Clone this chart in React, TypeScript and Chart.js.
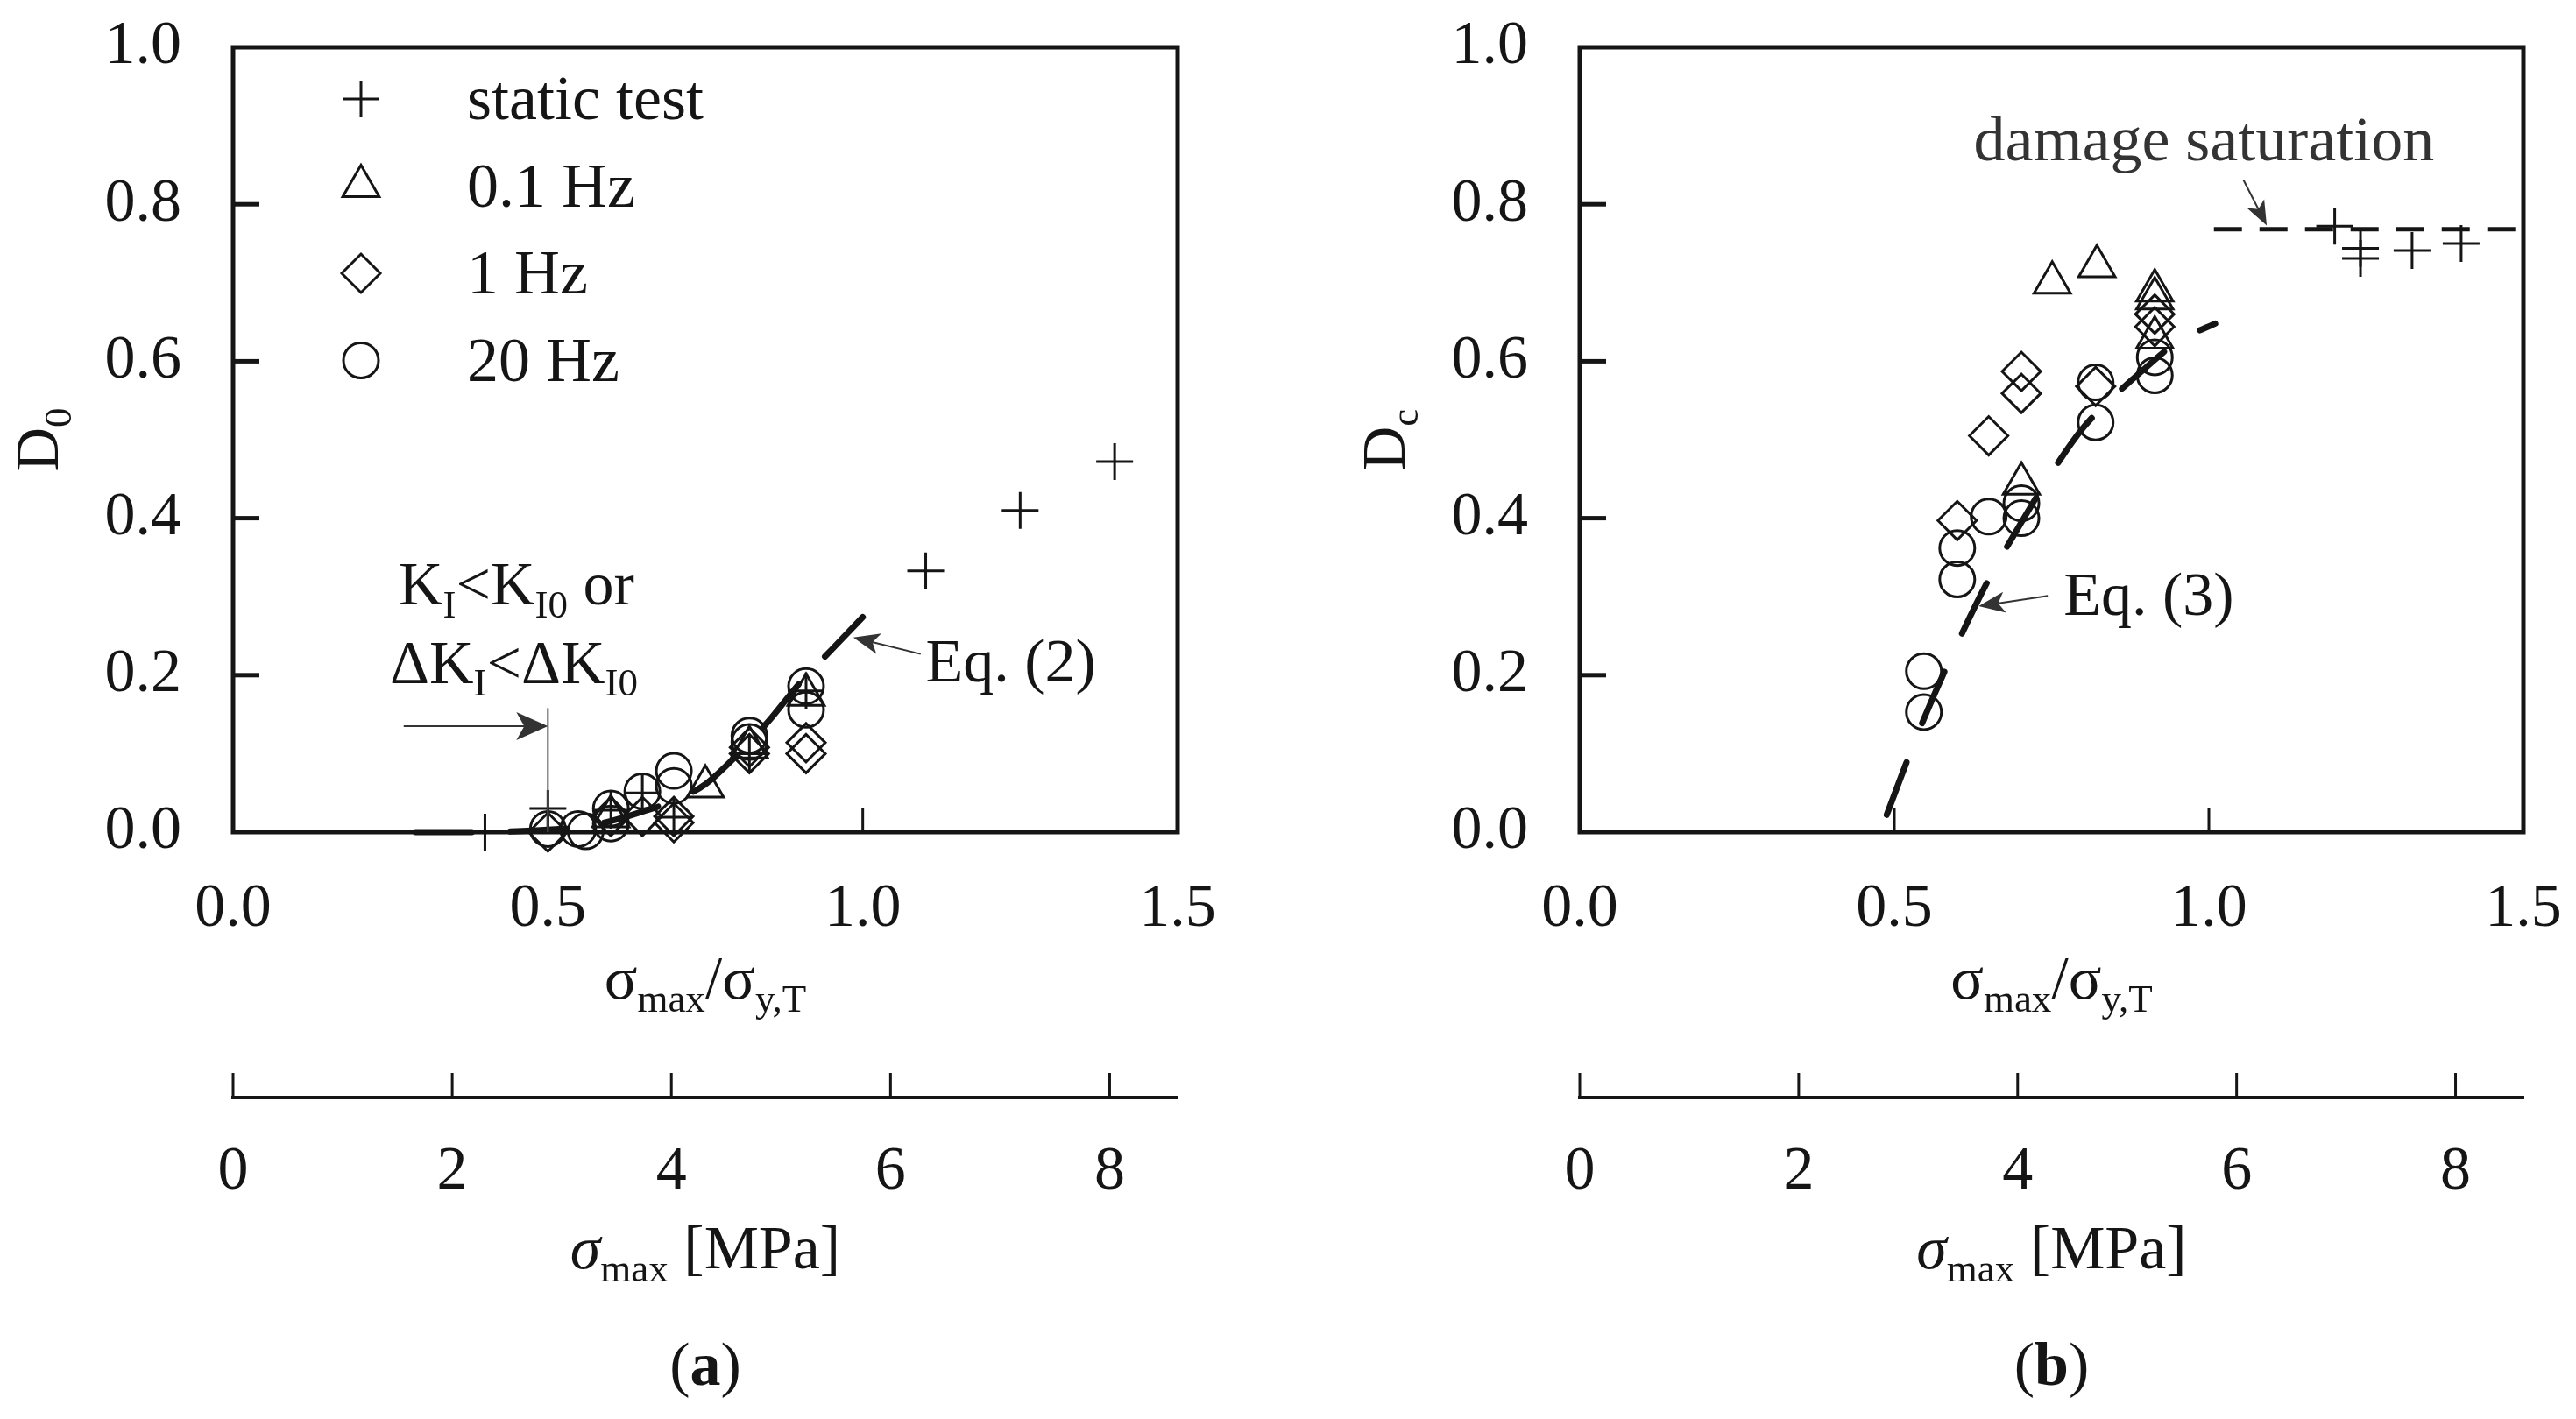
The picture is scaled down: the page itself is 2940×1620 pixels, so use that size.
import { useEffect, useRef } from "react";
import { Chart, registerables } from "chart.js";
import { drawPoint } from "chart.js/helpers";

Chart.register(...registerables);

type Pt = [number, number];

const SERIF = '"Liberation Serif", "DejaVu Serif", serif';
const INK = "#151515";

// legend / series shared by both panels
const seriesNames = ["static test", "0.1 Hz", "1 Hz", "20 Hz"];
const seriesStyles = ["cross", "triangle", "rectRot", "circle"];
const seriesRadius = [21, 24, 22, 20];

// axis ticks
const ratioTicks = [0, 0.5, 1.0, 1.5];
const damageTicks = [0, 0.2, 0.4, 0.6, 0.8, 1.0];
const stressTicks = [0, 2, 4, 6, 8];
const stressMax = 8.62; // MPa at sigma_max / sigma_yT = 1.5

// panel (a): initial damage D0
const aStatic: Pt[] = [
  [0.4, 0.0], [0.5, 0.03], [0.6, 0.028], [0.65, 0.05], [0.7, 0.019],
  [0.82, 0.1], [0.91, 0.18], [1.1, 0.333], [1.25, 0.41], [1.4, 0.472],
];
const aTri: Pt[] = [[0.6, 0.02], [0.75, 0.058], [0.82, 0.108], [0.91, 0.175]];
const aDia: Pt[] = [
  [0.5, 0.0], [0.6, 0.02], [0.65, 0.02], [0.7, 0.02], [0.7, 0.012],
  [0.82, 0.1], [0.82, 0.108], [0.91, 0.114], [0.91, 0.1],
];
const aCirc: Pt[] = [
  [0.5, 0.004], [0.548, 0.004], [0.56, 0.001], [0.6, 0.011], [0.6, 0.03],
  [0.65, 0.052], [0.7, 0.078], [0.7, 0.059], [0.82, 0.123], [0.82, 0.115],
  [0.91, 0.186], [0.91, 0.156],
];
const eq2X = [0.29, 0.4, 0.45, 0.5, 0.55, 0.6, 0.65, 0.7, 0.75, 0.8, 0.85, 0.9, 0.95, 1.0];
const eq2Y = [0, 0, 0.001, 0.003, 0.006, 0.014, 0.026, 0.04, 0.061, 0.098, 0.141, 0.19, 0.232, 0.274];

// panel (b): critical damage Dc
const bStatic: Pt[] = [[1.2, 0.772], [1.241, 0.744], [1.241, 0.731], [1.323, 0.741], [1.401, 0.75]];
const bTri: Pt[] = [[0.702, 0.444], [0.751, 0.7], [0.822, 0.721], [0.914, 0.69], [0.914, 0.68], [0.914, 0.63]];
const bDia: Pt[] = [[0.6, 0.397], [0.65, 0.505], [0.702, 0.587], [0.702, 0.559], [0.82, 0.568], [0.914, 0.644], [0.914, 0.66]];
const bCirc: Pt[] = [
  [0.547, 0.205], [0.547, 0.153], [0.6, 0.362], [0.6, 0.322], [0.65, 0.402],
  [0.702, 0.419], [0.702, 0.4], [0.82, 0.573], [0.82, 0.522], [0.914, 0.605], [0.914, 0.582],
];
const eq3X = [0.488, 0.52, 0.55, 0.6, 0.65, 0.7, 0.75, 0.8, 0.85, 0.9, 0.95, 1.01];
const eq3Y = [0.022, 0.09, 0.15, 0.24, 0.322, 0.392, 0.458, 0.515, 0.556, 0.592, 0.625, 0.648];
const satX = [1.008, 1.5];
const satY = [0.768, 0.768];

type Run = { t: string; sub?: boolean; it?: boolean; b?: boolean };

function runFont(r: Run, size: number) {
  const s = r.sub ? Math.round(size * 0.64) : size;
  return `${r.it ? "italic " : ""}${r.b ? "bold " : ""}${s}px ${SERIF}`;
}

function drawRich(ctx: CanvasRenderingContext2D, runs: Run[], x: number, y: number, size: number, align = "left") {
  let w = 0;
  for (const r of runs) {
    ctx.font = runFont(r, size);
    w += ctx.measureText(r.t).width;
  }
  let cx = align === "center" ? x - w / 2 : x;
  ctx.textAlign = "left";
  ctx.textBaseline = "alphabetic";
  for (const r of runs) {
    ctx.font = runFont(r, size);
    ctx.fillText(r.t, cx, y + (r.sub ? size * 0.21 : 0));
    cx += ctx.measureText(r.t).width;
  }
}

function seg(ctx: CanvasRenderingContext2D, x1: number, y1: number, x2: number, y2: number) {
  ctx.beginPath();
  ctx.moveTo(x1, y1);
  ctx.lineTo(x2, y2);
  ctx.stroke();
}

function arrow(ctx: CanvasRenderingContext2D, x1: number, y1: number, x2: number, y2: number, len: number, half: number) {
  const a = Math.atan2(y2 - y1, x2 - x1);
  const c = Math.cos(a), s = Math.sin(a);
  ctx.strokeStyle = "#333";
  ctx.fillStyle = "#333";
  ctx.lineWidth = 2;
  seg(ctx, x1, y1, x2 - c * len * 0.7, y2 - s * len * 0.7);
  ctx.beginPath();
  ctx.moveTo(x2, y2);
  ctx.lineTo(x2 - c * len - s * half, y2 - s * len + c * half);
  ctx.lineTo(x2 - c * len * 0.75, y2 - s * len * 0.75);
  ctx.lineTo(x2 - c * len + s * half, y2 - s * len - c * half);
  ctx.closePath();
  ctx.fill();
}

type Px = (v: number) => number;

function annotateA(ctx: CanvasRenderingContext2D, px: Px, py: Px) {
  ctx.fillStyle = INK;
  drawRich(ctx, [{ t: "K" }, { t: "I", sub: true }, { t: "<K" }, { t: "I0", sub: true }, { t: " or" }], px(0.263), py(0.29), 70);
  drawRich(ctx, [{ t: "ΔK" }, { t: "I", sub: true }, { t: "<ΔK" }, { t: "I0", sub: true }], px(0.249), py(0.19), 70);
  ctx.strokeStyle = "#555";
  ctx.lineWidth = 2;
  seg(ctx, px(0.5), py(0.158), px(0.5), py(0));
  arrow(ctx, px(0.271), py(0.135), px(0.5), py(0.135), 36, 16);
  ctx.fillStyle = INK;
  drawRich(ctx, [{ t: "Eq. (2)" }], px(1.1), py(0.192), 70);
  arrow(ctx, px(1.092), py(0.227), px(0.985), py(0.248), 30, 12);
}

function annotateB(ctx: CanvasRenderingContext2D, px: Px, py: Px) {
  ctx.fillStyle = "#333";
  drawRich(ctx, [{ t: "damage saturation" }], px(0.626), py(0.856), 72);
  arrow(ctx, px(1.055), py(0.831), px(1.092), py(0.773), 28, 11);
  ctx.fillStyle = INK;
  drawRich(ctx, [{ t: "Eq. (3)" }], px(0.769), py(0.277), 70);
  arrow(ctx, px(0.744), py(0.301), px(0.634), py(0.288), 30, 12);
}

type Curve = { x: number[]; y: number[]; dash: number[]; width: number; cap: "round" | "butt" };

type PanelSpec = {
  id: string;
  letter: string;
  left: number;
  yWidth: number;
  padRight: number;
  ySub: string;
  yTitleX: number;
  series: Pt[][];
  curves: Curve[];
  legend: boolean;
  annotate: (ctx: CanvasRenderingContext2D, px: Px, py: Px) => void;
};

const panelA: PanelSpec = {
  id: "a",
  letter: "a",
  left: 0,
  yWidth: 266,
  padRight: 126,
  ySub: "0",
  yTitleX: 66,
  series: [aStatic, aTri, aDia, aCirc],
  curves: [{ x: eq2X, y: eq2Y, dash: [64, 44], width: 7, cap: "round" }],
  legend: true,
  annotate: annotateA,
};

const panelB: PanelSpec = {
  id: "b",
  letter: "b",
  left: 1470,
  yWidth: 333,
  padRight: 60,
  ySub: "c",
  yTitleX: 133,
  series: [bStatic, bTri, bDia, bCirc],
  curves: [
    { x: eq3X, y: eq3Y, dash: [64, 48], width: 7, cap: "round" },
    { x: satX, y: satY, dash: [32, 20], width: 5, cap: "butt" },
  ],
  legend: false,
  annotate: annotateB,
};

function framePlugin(p: PanelSpec) {
  return {
    id: "frame-" + p.id,
    beforeDatasetsDraw(chart: any) {
      const { ctx, chartArea: a, scales } = chart;
      ctx.save();
      ctx.strokeStyle = INK;
      ctx.lineWidth = 5;
      ctx.strokeRect(a.left, a.top, a.right - a.left, a.bottom - a.top);
      for (const v of damageTicks.slice(1, -1)) {
        const y = scales.y.getPixelForValue(v);
        seg(ctx, a.left, y, a.left + 30, y);
      }
      ctx.lineWidth = 3;
      for (const v of ratioTicks.slice(1, -1)) {
        const x = scales.x.getPixelForValue(v);
        seg(ctx, x, a.bottom, x, a.bottom - 28);
      }
      const s2 = scales.x2;
      for (const v of stressTicks) {
        const x = s2.getPixelForValue(v);
        seg(ctx, x, s2.top, x, s2.top - 28);
      }
      ctx.restore();
    },
    afterDraw(chart: any) {
      const { ctx, chartArea: a, scales } = chart;
      const px: Px = (v) => scales.x.getPixelForValue(v);
      const py: Px = (v) => scales.y.getPixelForValue(v);
      const mid = (a.left + a.right) / 2;
      ctx.save();
      ctx.fillStyle = INK;
      drawRich(ctx, [{ t: "σ" }, { t: "max", sub: true }, { t: "/σ" }, { t: "y,T", sub: true }], mid, a.bottom + 190, 70, "center");
      drawRich(ctx, [{ t: "σ", it: true }, { t: "max", sub: true }, { t: " [MPa]" }], mid, scales.x2.top + 195, 70, "center");
      drawRich(ctx, [{ t: "(" }, { t: p.letter, b: true }, { t: ")" }], mid, scales.x2.top + 328, 70, "center");

      ctx.save();
      ctx.translate(p.yTitleX, (a.top + a.bottom) / 2);
      ctx.rotate(-Math.PI / 2);
      drawRich(ctx, [{ t: "D" }, { t: p.ySub, sub: true }], 0, 0, 70, "center");
      ctx.restore();

      if (p.legend) {
        seriesNames.forEach((name, i) => {
          const y = a.top + 59 + i * 99.5;
          ctx.strokeStyle = INK;
          ctx.fillStyle = "rgba(0,0,0,0)";
          ctx.lineWidth = 3;
          drawPoint(ctx, { pointStyle: seriesStyles[i], rotation: 0, radius: seriesRadius[i], borderWidth: 3 } as any, a.left + 146, y);
          ctx.fillStyle = INK;
          drawRich(ctx, [{ t: name }], a.left + 267, y + 23, 72);
        });
      }

      p.annotate(ctx, px, py);
      ctx.restore();
    },
  };
}

const tickFont = { family: SERIF, size: 70 };

// fix the box sizes so the plot area lands where the reference has it
function fixSize(dim: "width" | "height", value: number) {
  return (s: any) => {
    s[dim] = value;
    s.paddingTop = 0;
    s.paddingBottom = 0;
    s.paddingLeft = 0;
    s.paddingRight = 0;
  };
}

function buildChart(canvas: HTMLCanvasElement, p: PanelSpec) {
  const lineSets = p.curves.map((c) => ({
    data: c.x.map((x, i) => ({ x, y: c.y[i] })),
    showLine: true,
    pointRadius: 0,
    borderColor: INK,
    borderWidth: c.width,
    borderDash: c.dash,
    borderCapStyle: c.cap,
    cubicInterpolationMode: "monotone",
    fill: false,
    clip: false,
  }));
  const markerSets = p.series.map((pts, i) => ({
    label: seriesNames[i],
    data: pts.map(([x, y]) => ({ x, y })),
    showLine: false,
    pointStyle: seriesStyles[i],
    pointRadius: seriesRadius[i],
    pointBorderWidth: 3,
    pointBorderColor: INK,
    pointBackgroundColor: "rgba(0,0,0,0)",
    clip: false,
  }));

  return new Chart(canvas, {
    type: "scatter",
    data: { datasets: [...lineSets, ...markerSets] as any },
    options: {
      animation: false,
      responsive: true,
      maintainAspectRatio: false,
      events: [],
      layout: { padding: { top: 54, right: p.padRight, bottom: 0, left: 0 }, autoPadding: false },
      plugins: { legend: { display: false }, tooltip: { enabled: false } },
      scales: {
        x: {
          type: "linear",
          position: "bottom",
          weight: 0,
          min: 0,
          max: 1.5,
          afterFit: fixSize("height", 303),
          afterBuildTicks: (s: any) => { s.ticks = ratioTicks.map((value) => ({ value })); },
          grid: { display: false, drawTicks: false },
          border: { display: false },
          ticks: { padding: 47, color: INK, font: tickFont, autoSkip: false, maxRotation: 0, callback: (v: any) => Number(v).toFixed(1) },
        },
        x2: {
          type: "linear",
          position: "bottom",
          weight: 1,
          min: 0,
          max: stressMax,
          afterFit: fixSize("height", 367),
          afterBuildTicks: (s: any) => { s.ticks = stressTicks.map((value) => ({ value })); },
          grid: { display: false, drawTicks: false },
          border: { display: true, color: INK, width: 4 },
          ticks: { padding: 44, color: INK, font: tickFont, autoSkip: false, maxRotation: 0, callback: (v: any) => String(v) },
        },
        y: {
          type: "linear",
          position: "left",
          min: 0,
          max: 1,
          afterFit: fixSize("width", p.yWidth),
          afterBuildTicks: (s: any) => { s.ticks = damageTicks.map((value) => ({ value })); },
          grid: { display: false, drawTicks: false },
          border: { display: false },
          ticks: { padding: 59, color: INK, font: tickFont, autoSkip: false, callback: (v: any) => Number(v).toFixed(1) },
        },
      } as any,
    },
    plugins: [framePlugin(p)],
  });
}

function Panel({ spec }: { spec: PanelSpec }) {
  const canvasRef = useRef<HTMLCanvasElement>(null);

  useEffect(() => {
    if (!canvasRef.current) return;
    const chart = buildChart(canvasRef.current, spec);
    return () => chart.destroy();
  }, [spec]);

  return (
    <div style={{ position: "absolute", left: spec.left, top: 0, width: 1470, height: 1620 }}>
      <canvas ref={canvasRef} />
    </div>
  );
}

export default function App() {
  return (
    <div style={{ position: "fixed", left: 0, top: 0, width: 2940, height: 1620, background: "#fff" }}>
      <Panel spec={panelA} />
      <Panel spec={panelB} />
    </div>
  );
}
